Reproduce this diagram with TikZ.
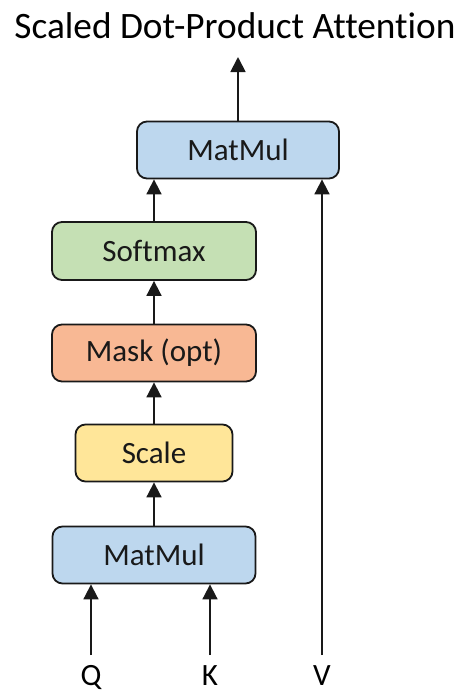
\documentclass[tikz,border=0pt]{standalone}
\usepackage{fontspec}
\setmainfont{Carlito}[Ligatures=NoCommon]
\usetikzlibrary{arrows.meta}
\definecolor{bblue}{HTML}{BDD7EE}
\definecolor{bgreen}{HTML}{C5E0B4}
\definecolor{borange}{HTML}{F8B894}
\definecolor{byellow}{HTML}{FFE699}
\tikzset{
  opbox/.style={draw=black!90, line width=1.8pt, rounded corners=10pt, inner sep=0pt,
     font=\fontsize{31}{36}\selectfont, text=black!90},
  flow/.style={line width=1.8pt, draw=black!90, -{Triangle[width=15pt,length=15pt]}},
  lbl/.style={font=\fontsize{31}{36}\selectfont, inner sep=0pt, anchor=base}
}
\begin{document}
\begin{tikzpicture}[x=1pt,y=-1pt]
\useasboundingbox (0,0) rectangle (474,699);
\node[lbl, font=\fontsize{37.3}{42}\selectfont] (title) at (235,38) {Scaled Dot-Product Attention};
\node[opbox, fill=bblue, minimum width=202pt, minimum height=57pt] (mm2) at (238,150) {MatMul};
\node[opbox, fill=bgreen, minimum width=204pt, minimum height=58pt] (soft) at (154,251) {Softmax};
\node[opbox, fill=borange, minimum width=204pt, minimum height=57pt] (mask) at (154,353) {Mask (opt)};
\node[opbox, fill=byellow, minimum width=157pt, minimum height=57pt] (scale) at (154,453) {Scale};
\node[opbox, fill=bblue, minimum width=203pt, minimum height=57pt] (mm1) at (154,555) {MatMul};
\node[lbl] (q) at (91,685) {Q};
\node[lbl] (k) at (210,685) {K};
\node[lbl] (v) at (322,685) {V};
\coordinate (out) at (238,57);
\coordinate (qs) at (91,655);
\coordinate (ks) at (210,655);
\coordinate (vs) at (322,655);
\draw[flow] (qs) -- (qs |- mm1.south);
\draw[flow] (ks) -- (ks |- mm1.south);
\draw[flow] (mm1) -- (scale);
\draw[flow] (scale) -- (mask);
\draw[flow] (mask) -- (soft);
\draw[flow] (soft.north) -- (soft.north |- mm2.south);
\draw[flow] (vs) -- (vs |- mm2.south);
\draw[flow] (mm2) -- (out);
\end{tikzpicture}
\end{document}
